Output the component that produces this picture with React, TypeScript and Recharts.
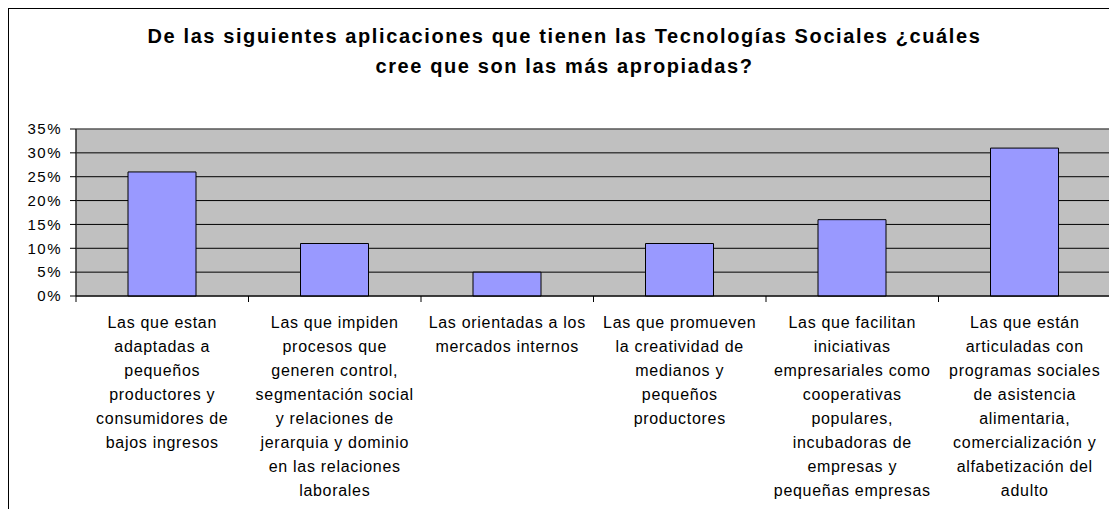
import React from 'react';
import { BarChart, Bar, XAxis, YAxis, CartesianGrid, ReferenceArea } from 'recharts';

const categories = [
  'Las que estan\nadaptadas a\npequeños\nproductores y\nconsumidores de\nbajos ingresos',
  'Las que impiden\nprocesos que\ngeneren control,\nsegmentación social\ny relaciones de\njerarquia y dominio\nen las relaciones\nlaborales',
  'Las orientadas a los\nmercados internos',
  'Las que promueven\nla creatividad de\nmedianos y\npequeños\nproductores',
  'Las que facilitan\niniciativas\nempresariales como\ncooperativas\npopulares,\nincubadoras de\nempresas y\npequeñas empresas',
  'Las que están\narticuladas con\nprogramas sociales\nde asistencia\nalimentaria,\ncomercialización y\nalfabetización del\nadulto',
];
const percentages = [26, 11, 5, 11, 16, 31];
const yTicks = [0, 5, 10, 15, 20, 25, 30, 35];
const titleLines = [
  'De las siguientes aplicaciones que tienen las Tecnologías Sociales ¿cuáles',
  'cree que son las más apropiadas?',
];

const data = categories.map((name, i) => ({ name, value: percentages[i] }));

const W = 1117;
const H = 517;
const PLOT_LEFT = 76;
const PLOT_RIGHT = 1111;
const HALF_BAND = (PLOT_RIGHT - PLOT_LEFT) / categories.length / 2;
const FONT = '"Liberation Sans", Arial, sans-serif';

// etiqueta multilinea + marcas entre categorias
const CategoryTick = (props: any) => {
  const { x, y, payload, index } = props;
  const lines: string[] = String(payload.value).split('\n');
  return (
    <g>
      <line x1={x - HALF_BAND} x2={x - HALF_BAND} y1={y} y2={y + 6} stroke="#000" />
      {index === categories.length - 1 && (
        <line x1={x + HALF_BAND} x2={x + HALF_BAND} y1={y} y2={y + 6} stroke="#000" />
      )}
      <text x={x} y={y + 32} textAnchor="middle" fontSize={16} fill="#000" fontFamily={FONT} letterSpacing={0.7}>
        {lines.map((l, i) => (
          <tspan key={i} x={x} dy={i === 0 ? 0 : 24}>{l}</tspan>
        ))}
      </text>
    </g>
  );
};

export default function App() {
  return (
    <div style={{ position: 'relative', margin: -8, width: W, height: H, overflow: 'hidden', background: '#fff', fontFamily: FONT }}>
      <div style={{ position: 'absolute', left: 7, top: 7, width: 1200, height: 600, border: '2px solid #000' }} />
      <div
        style={{
          position: 'absolute', left: 12, top: 21, width: W - 12, textAlign: 'center',
          fontSize: 20, fontWeight: 'bold', lineHeight: '30px', letterSpacing: 1.6, color: '#000',
        }}
      >
        {titleLines.map((t, i) => <div key={i}>{t}</div>)}
      </div>
      <div style={{ position: 'absolute', left: 0, top: 0 }}>
        <BarChart width={W} height={H} data={data} margin={{ top: 129, right: W - PLOT_RIGHT, left: 16, bottom: 11 }}>
          <CartesianGrid vertical={false} stroke="#000" fill="#C0C0C0" fillOpacity={1} />
          <ReferenceArea y1={0} y2={35} fill="none" stroke="#808080" strokeWidth={1} />
          <XAxis
            dataKey="name"
            height={210}
            interval={0}
            axisLine={{ stroke: '#000' }}
            tickLine={false}
            tickSize={0}
            tickMargin={0}
            tick={<CategoryTick />}
          />
          <YAxis
            width={60}
            domain={[0, 35]}
            ticks={yTicks}
            interval={0}
            tickFormatter={(v: number) => `${v}%`}
            axisLine={{ stroke: '#000' }}
            tickLine={{ stroke: '#000' }}
            tickSize={6}
            tickMargin={8}
            tick={{ fontSize: 15, fill: '#000', fontFamily: FONT, letterSpacing: 1.5 }}
          />
          <Bar dataKey="value" fill="#9999FF" stroke="#000" strokeWidth={1} barSize={68} isAnimationActive={false} />
        </BarChart>
      </div>
    </div>
  );
}
